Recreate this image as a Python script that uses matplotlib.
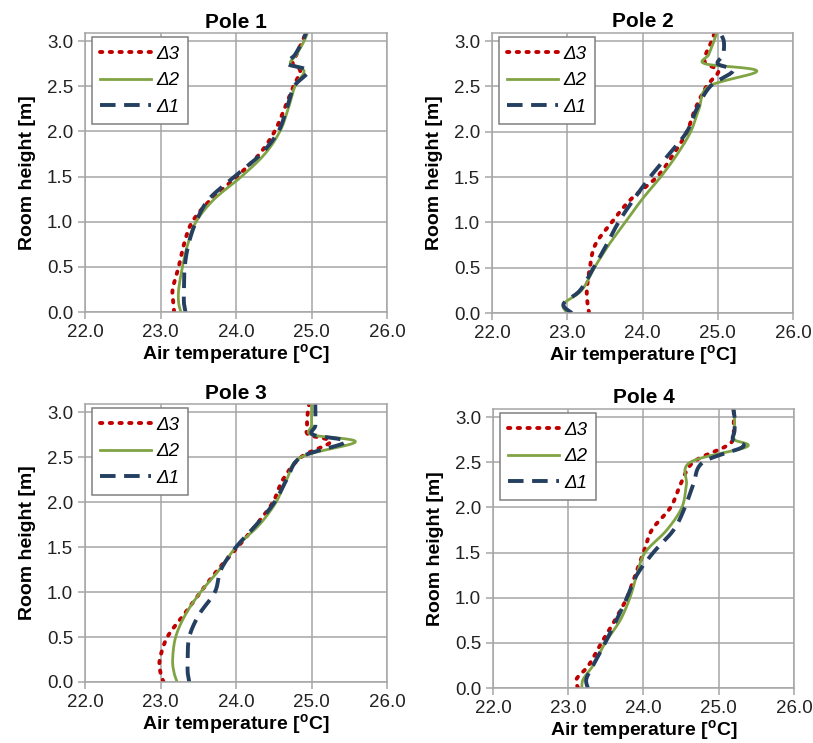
import matplotlib
matplotlib.use('Agg')
import matplotlib.pyplot as plt
import numpy as np

plt.rcParams['font.family'] = ['Liberation Sans', 'DejaVu Sans']
plt.rcParams['mathtext.fontset'] = 'custom'
plt.rcParams['mathtext.rm'] = 'Liberation Sans'
plt.rcParams['mathtext.bf'] = 'Liberation Sans:bold'

# measurement heights [m]
heights = [0.0, 0.1, 0.25, 0.5, 0.75, 1.0, 1.25, 1.5, 1.75, 2.0, 2.25, 2.5,
           2.67, 2.75, 2.85, 3.0, 3.1]

# air temperatures [degC] per pole and case
pole1_d3 = [23.18, 23.17, 23.16, 23.24, 23.31, 23.42, 23.67, 24.01, 24.31, 24.51, 24.64, 24.76,
            24.85, 24.75, 24.80, 24.88, 24.93]
pole1_d2 = [23.27, 23.24, 23.24, 23.29, 23.36, 23.47, 23.71, 24.07, 24.38, 24.58, 24.69, 24.78,
            24.90, 24.72, 24.80, 24.90, 24.95]
pole1_d1 = [23.33, 23.31, 23.31, 23.32, 23.37, 23.47, 23.64, 23.98, 24.33, 24.56, 24.67, 24.77,
            24.95, 24.68, 24.78, 24.88, 24.93]

pole2_d3 = [23.29, 23.27, 23.26, 23.30, 23.37, 23.59, 23.84, 24.19, 24.41, 24.59, 24.70, 24.85,
            25.01, 24.84, 24.84, 24.92, 24.96]
pole2_d2 = [23.00, 22.95, 23.19, 23.36, 23.55, 23.77, 23.99, 24.24, 24.46, 24.64, 24.75, 24.88,
            25.52, 24.83, 24.88, 24.95, 24.99]
pole2_d1 = [23.06, 22.95, 23.17, 23.35, 23.52, 23.68, 23.88, 24.10, 24.35, 24.59, 24.72, 24.90,
            25.20, 25.00, 25.07, 25.08, 25.02]

pole3_d3 = [23.04, 23.00, 22.99, 23.09, 23.31, 23.53, 23.76, 24.02, 24.27, 24.49, 24.62, 24.86,
            25.25, 24.96, 24.94, 24.95, 24.97]
pole3_d2 = [23.22, 23.18, 23.16, 23.20, 23.33, 23.53, 23.78, 24.00, 24.31, 24.53, 24.67, 24.86,
            25.58, 25.00, 25.00, 25.00, 25.00]
pole3_d1 = [23.38, 23.36, 23.36, 23.38, 23.51, 23.72, 23.80, 24.00, 24.27, 24.51, 24.67, 24.86,
            25.45, 25.02, 25.05, 25.05, 25.05]

pole4_d3 = [23.13, 23.11, 23.27, 23.44, 23.62, 23.78, 23.89, 24.00, 24.11, 24.36, 24.49, 24.66,
            25.08, 25.19, 25.20, 25.20, 25.20]
pole4_d2 = [23.18, 23.20, 23.33, 23.49, 23.69, 23.82, 23.91, 24.02, 24.31, 24.51, 24.57, 24.62,
            25.37, 25.21, 25.21, 25.21, 25.21]
pole4_d1 = [23.26, 23.24, 23.33, 23.49, 23.64, 23.78, 23.91, 24.13, 24.40, 24.55, 24.66, 24.79,
            25.32, 25.19, 25.21, 25.21, 25.19]

titles = ['Pole 1', 'Pole 2', 'Pole 3', 'Pole 4']
poles = [(pole1_d3, pole1_d2, pole1_d1), (pole2_d3, pole2_d2, pole2_d1),
         (pole3_d3, pole3_d2, pole3_d1), (pole4_d3, pole4_d2, pole4_d1)]
labels = ['Δ3', 'Δ2', 'Δ1']


def smooth(x, y, n=16):
    """Catmull-Rom curve through the points, like Excel's smoothed lines."""
    pts = np.column_stack([x, y])
    p = np.vstack([pts[0], pts, pts[-1]])
    t = np.linspace(0, 1, n, endpoint=False)[:, None]
    out = []
    for i in range(1, len(p) - 2):
        p0, p1, p2, p3 = p[i - 1], p[i], p[i + 1], p[i + 2]
        seg = 0.5 * (2 * p1 + (-p0 + p2) * t + (2 * p0 - 5 * p1 + 4 * p2 - p3) * t ** 2
                     + (-p0 + 3 * p1 - 3 * p2 + p3) * t ** 3)
        out.append(seg)
    out.append(pts[-1:])
    out = np.vstack(out)
    return out[:, 0], out[:, 1]


styles = [dict(color='#C00000', linestyle=(0, (0.6, 1.9)), linewidth=2.8, dash_capstyle='round'),
          dict(color='#80A444', linestyle='-', linewidth=2.0),
          dict(color='#243F60', linestyle=(0, (4, 2.2)), linewidth=2.8)]

positions = [[0.1046, 0.580, 0.3715, 0.3755],
             [0.6052, 0.5787, 0.3702, 0.377],
             [0.1046, 0.0821, 0.3715, 0.374],
             [0.6064, 0.074, 0.3702, 0.3755]]

fig = plt.figure(figsize=(8.13, 7.43), dpi=100)
grid_color = '#A6A6A6'

for pos, title, series in zip(positions, titles, poles):
    ax = fig.add_axes(pos)
    for temps, label, st in zip(series, labels, styles):
        xs, ys = smooth(temps, heights)
        ax.plot(xs, ys, label=label, **st)
    ax.set_xlim(22, 26)
    ax.set_ylim(0, 3.09)
    ax.set_xticks(np.arange(22, 26.5, 1.0))
    ax.set_yticks(np.arange(0, 3.01, 0.5))
    ax.set_xticklabels([f'{v:.1f}' for v in np.arange(22, 26.5, 1.0)])
    ax.set_yticklabels([f'{v:.1f}' for v in np.arange(0, 3.01, 0.5)])
    ax.grid(True, color=grid_color, linewidth=1.1)
    ax.set_axisbelow(True)
    for sp in ax.spines.values():
        sp.set_color(grid_color)
        sp.set_linewidth(1.1)
    ax.tick_params(colors=grid_color, labelcolor='#222222', labelsize=13.5, length=5, width=1.1)
    ax.set_title(title, fontsize=15, fontweight='bold', pad=4)
    ax.set_xlabel(r'Air temperature [$^{\mathbf{o}}$C]', fontsize=14, fontweight='bold', labelpad=1)
    ax.set_ylabel('Room height [m]', fontsize=14, fontweight='bold', labelpad=8)
    leg = ax.legend(loc='upper left', bbox_to_anchor=(0.022, 0.985), fancybox=False, framealpha=1,
                    edgecolor='#808080', prop={'style': 'italic', 'size': 13.5},
                    handlelength=2.7, handletextpad=0.3, borderpad=0.45, labelspacing=0.5,
                    borderaxespad=0)
    leg.get_frame().set_linewidth(1.1)

fig.savefig('out.png', dpi=100)
